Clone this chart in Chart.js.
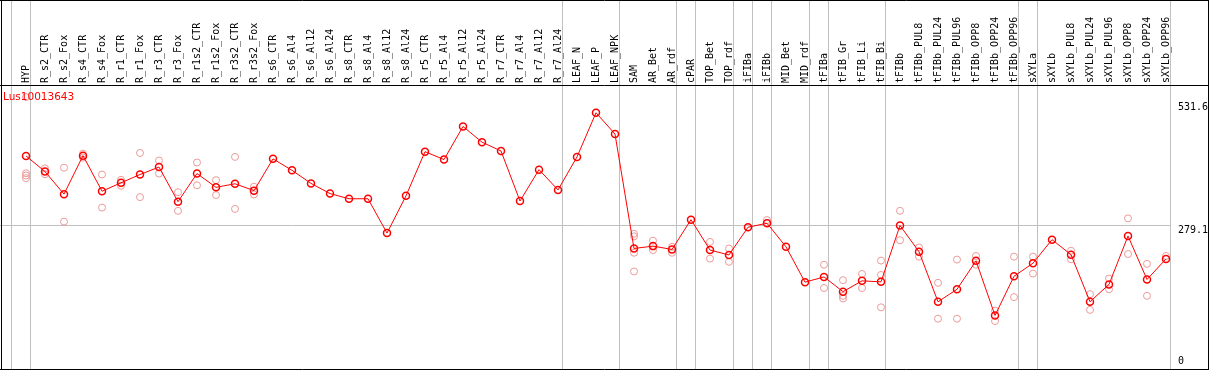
<!DOCTYPE html>
<html>
<head>
<meta charset="utf-8">
<script src="https://cdn.jsdelivr.net/npm/chart.js@4"></script>
<style>
  html, body { margin: 0; padding: 0; background: #fff; }
  #wrap { width: 1209px; height: 370px; position: relative; }
</style>
</head>
<body>
<div id="wrap"><canvas id="exprChart"></canvas></div>
<script>
const geneId = "Lus10013643";

const categories = [
  "HYP", "R_s2_CTR", "R_s2_Fox", "R_s4_CTR", "R_s4_Fox", "R_r1_CTR", "R_r1_Fox",
  "R_r3_CTR", "R_r3_Fox", "R_r1s2_CTR", "R_r1s2_Fox", "R_r3s2_CTR", "R_r3s2_Fox",
  "R_s6_CTR", "R_s6_Al4", "R_s6_Al12", "R_s6_Al24", "R_s8_CTR", "R_s8_Al4",
  "R_s8_Al12", "R_s8_Al24", "R_r5_CTR", "R_r5_Al4", "R_r5_Al12", "R_r5_Al24",
  "R_r7_CTR", "R_r7_Al4", "R_r7_Al12", "R_r7_Al24", "LEAF_N", "LEAF_P", "LEAF_NPK",
  "SAM", "AR_Bet", "AR_rdf", "cPAR", "TOP_Bet", "TOP_rdf", "iFIBa", "iFIBb",
  "MID_Bet", "MID_rdf", "tFIBa", "tFIB_Gr", "tFIB_Li", "tFIB_Bi", "tFIBb",
  "tFIBb_PUL8", "tFIBb_PUL24", "tFIBb_PUL96", "tFIBb_OPP8", "tFIBb_OPP24", "tFIBb_OPP96",
  "sXYLa", "sXYLb", "sXYLb_PUL8", "sXYLb_PUL24", "sXYLb_PUL96", "sXYLb_OPP8",
  "sXYLb_OPP24", "sXYLb_OPP96"
];

// mean expression per sample
const means = [
  421.8, 389.8, 343.7, 422.4, 349.7, 366.9, 383.8, 399.0, 328.3, 385.8,
  357.7, 364.9, 350.9, 415.8, 392.4, 365.7, 344.9, 334.3, 334.3, 264.1,
  340.3, 430.5, 414.4, 482.0, 449.9, 431.9, 329.7, 393.8, 352.3, 419.8,
  510.0, 466.5, 232.7, 237.5, 230.7, 291.6, 229.5, 219.4, 276.2, 284.2,
  236.1, 163.9, 174.5, 144.5, 166.5, 164.5, 279.6, 226.1, 123.8, 149.3,
  207.4, 95.8, 175.9, 202.6, 250.7, 220.0, 123.8, 159.3, 258.1, 169.3,
  211.4
];

// individual replicates per sample
const replicates = [
  [386.4, 381.8, 376.4, 542.1], [396.4, 384.4], [397.8, 287.6], [426.5, 418.4],
  [383.8, 316.2], [372.9, 360.9], [427.9, 337.7], [412.4, 385.8], [347.7, 309.6],
  [408.4, 361.7], [372.3, 341.7], [419.8, 313.6], [358.9, 342.9],
  [], [], [], [], [], [], [], [], [], [], [], [], [], [], [], [], [], [], [],
  [262.7, 257.5, 224.0, 185.8], [248.7, 229.5], [236.1, 224.0], [],
  [246.1, 212.0], [232.7, 205.4], [], [290.8], [], [],
  [199.4, 151.9], [167.9, 135.9, 130.5], [180.6, 151.9], [208.0, 178.6, 112.4],
  [309.6, 249.5], [234.7, 216.0], [162.5, 89.2], [210.0, 89.2], [217.4, 199.4],
  [105.8, 84.4], [216.0, 133.3], [216.0, 181.4], [], [228.1, 210.6],
  [139.3, 107.2], [171.3, 149.3], [294.2, 221.4], [201.4, 135.9], [217.4]
];

const axisMarks = [531.6, 279.1, 0];
const gridValue = 279.1;
// index of last sample in each group (-1 = left edge)
const groupEnds = [-1, 0, 28, 31, 34, 35, 37, 38, 39, 41, 42, 45, 52, 53, 60];

const repPoints = replicates.flatMap((vals, i) =>
  vals.map((v) => ({ x: categories[i], y: v }))
);

const frame = {
  id: "frame",
  beforeDatasetsDraw(chart) {
    const { ctx, scales: { x, y } } = chart;
    const step = x.getPixelForValue(1) - x.getPixelForValue(0);
    const sepX = (i) => Math.floor(x.getPixelForValue(0) + i * step + step / 4) + 0.5;
    ctx.save();
    ctx.strokeStyle = "#c0c0c0";
    ctx.lineWidth = 1;
    ctx.beginPath();
    groupEnds.forEach((i) => {
      ctx.moveTo(sepX(i), 0);
      ctx.lineTo(sepX(i), chart.height);
    });
    const gy = Math.floor(y.getPixelForValue(gridValue)) + 0.5;
    ctx.moveTo(0, gy);
    ctx.lineTo(sepX(groupEnds[groupEnds.length - 1]), gy);
    ctx.stroke();
    ctx.restore();
  },
  afterDraw(chart) {
    const { ctx, scales: { x, y } } = chart;
    const W = chart.width, H = chart.height;
    const step = x.getPixelForValue(1) - x.getPixelForValue(0);
    const rightSep = Math.floor(x.getPixelForValue(categories.length - 1) + step / 4);
    ctx.save();
    ctx.strokeStyle = "#000";
    ctx.lineWidth = 1;
    ctx.beginPath();
    ctx.moveTo(0, 0.5); ctx.lineTo(W, 0.5);
    ctx.moveTo(0, 85.5); ctx.lineTo(W, 85.5);
    ctx.moveTo(0, H - 0.5); ctx.lineTo(W, H - 0.5);
    ctx.moveTo(1.5, 0); ctx.lineTo(1.5, H);
    ctx.moveTo(W - 0.5, 0); ctx.lineTo(W - 0.5, H);
    ctx.stroke();

    ctx.fillStyle = "#ff0000";
    ctx.font = "10.5px 'DejaVu Sans'";
    ctx.textBaseline = "alphabetic";
    ctx.fillText(geneId, 3, 100);

    ctx.fillStyle = "#000";
    ctx.font = "10px 'DejaVu Sans Mono'";
    ctx.textBaseline = "middle";
    axisMarks.forEach((v) => {
      const py = Math.min(y.getPixelForValue(v) + 5, H - 8.5);
      ctx.fillText(String(v), rightSep + 8, py);
    });
    ctx.restore();
  }
};

new Chart(document.getElementById("exprChart"), {
  type: "line",
  data: {
    labels: categories,
    datasets: [
      {
        label: "mean",
        data: means,
        borderColor: "#ff0000",
        borderWidth: 1,
        pointRadius: 3.5,
        pointBorderWidth: 1.5,
        pointBorderColor: "#ff0000",
        pointBackgroundColor: "rgba(0,0,0,0)",
        tension: 0,
        order: 0,
      },
      {
        label: "replicates",
        data: repPoints,
        showLine: false,
        pointRadius: 3.5,
        pointBorderWidth: 1,
        pointBorderColor: "#ec9a9a",
        pointBackgroundColor: "rgba(0,0,0,0)",
        order: 1,
      },
    ],
  },
  options: {
    responsive: true,
    maintainAspectRatio: false,
    animation: false,
    layout: { padding: { left: 26, right: 43, top: 0, bottom: 0 } },
    plugins: { legend: { display: false }, tooltip: { enabled: false } },
    scales: {
      x: {
        type: "category",
        position: "top",
        offset: false,
        grid: { display: false, drawTicks: false },
        border: { display: false },
        ticks: {
          autoSkip: false,
          minRotation: 90,
          maxRotation: 90,
          padding: 3,
          labelOffset: 12,
          color: "#000",
          font: { family: "DejaVu Sans Mono", size: 10 },
        },
        afterFit: (s) => { s.height = 86; },
      },
      y: {
        display: false,
        min: -4.4,
        max: 564.7,
      },
    },
  },
  plugins: [frame],
});
</script>
</body>
</html>
